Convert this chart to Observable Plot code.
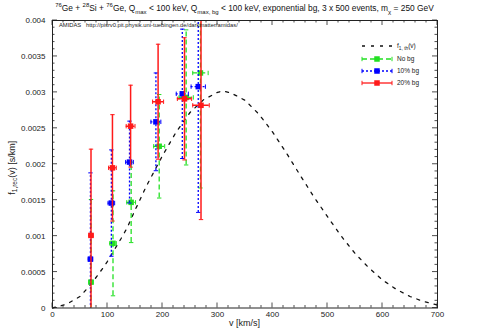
<!DOCTYPE html>
<html><head><meta charset="utf-8">
<script src="https://cdn.jsdelivr.net/npm/d3@7"></script>
<script src="https://cdn.jsdelivr.net/npm/@observablehq/plot@0.6"></script>
<style>
body{margin:0;background:#fff;font-family:"Liberation Sans",Arial,Helvetica,sans-serif;}
#wrap{width:480px;height:336px;overflow:hidden;}
#title{height:14px;width:489px;text-align:center;font-size:8.4px;line-height:1;padding-top:4px;box-sizing:border-box;color:#111;white-space:nowrap;}
#title sup,#title sub{font-size:6px;line-height:0;}
#chart svg{display:block;}
</style></head>
<body><div id="wrap">
<div id="title"><sup>76</sup>Ge + <sup>28</sup>Si + <sup>76</sup>Ge, Q<sub>max</sub> &lt; 100 keV, Q<sub>max, bg</sub> &lt; 100 keV, exponential bg, 3 x 500 events, m<sub>χ</sub> = 250 GeV</div>
<div id="chart"></div>
</div>
<script>
// ---- data ----
const xTicks = [0,100,200,300,400,500,600,700];
const yTicks = [0,0.0005,0.001,0.0015,0.002,0.0025,0.003,0.0035,0.004];
const yTickLabels = ["0","0.0005","0.001","0.0015","0.002","0.0025","0.003","0.0035","0.004"];

// theoretical f1,th(v)
const thV = [0,25,50,70,94,100,125,136,150,171,200,225,250,275,300,310,325,350,375,400,425,450,475,500,525,550,575,600,625,650,675,700];
const thF = [0,0.00005,0.00016,0.00033,0.00058,0.00065,0.00097,0.00112,0.00136,0.00170,0.00212,0.00245,0.00272,0.00290,0.00300,0.00302,0.00299,0.00289,0.00270,0.00245,0.00216,0.00185,0.00155,0.00127,0.00100,0.00076,0.00056,0.00039,0.00026,0.00016,0.00009,0.00004];

// No bg
const gV   = [70,110,143,194,243,269];
const gF   = [0.00036,0.00090,0.00147,0.00225,0.00293,0.00327];
const gXe  = [4,6,8,10,13,14];
const gYe  = [0.00115,0.00073,0.00056,0.00072,0.00094,0.00160];
// 10% bg
const bV   = [69,107,140,188,236,265];
const bF   = [0.00068,0.00146,0.00203,0.00259,0.00298,0.00308];
const bXe  = [4,6,7,9,11,13];
const bYe  = [0.00120,0.00074,0.00057,0.00068,0.00090,0.00175];
// 20% bg
const rV   = [70,109,142,192,240,270];
const rF   = [0.00101,0.00195,0.00253,0.00287,0.00291,0.00282];
const rXe  = [4,7,8,10,13,15];
const rYe  = [0.00120,0.00074,0.00057,0.00080,0.00085,0.00159];

const seriesNames = ["No bg","10% bg","20% bg"];
const seriesColors = ["#22e022","#0000ff","#ff1a1a"];
const seriesDash = ["5,3","2,2",null];

// ---- build ----
const theory = thV.map((v,i)=>({v, f:thF[i]}));
const hcap = {draw(ctx,size){const w=Math.sqrt(size/Math.PI);ctx.moveTo(-w,0);ctx.lineTo(w,0);}};
const vcap = {draw(ctx,size){const w=Math.sqrt(size/Math.PI);ctx.moveTo(0,-w);ctx.lineTo(0,w);}};

function seriesMarks(vs, vals, xe, ye, color, dash, sw){
  const d = vs.map((v,i)=>({v, f:vals[i], xl:v-xe[i], xh:v+xe[i], yl:vals[i]-ye[i], yh:vals[i]+ye[i]}));
  const st = {stroke:color, strokeWidth:sw, clip:true};
  if (dash) st.strokeDasharray = dash;
  return [
    Plot.ruleX(d,{x:"v", y1:"yl", y2:"yh", ...st}),
    Plot.ruleY(d,{y:"f", x1:"xl", x2:"xh", ...st}),
    Plot.dot(d,{x:"v", y:"yl", symbol:hcap, r:2.2, fill:"none", stroke:color, strokeWidth:1, clip:true}),
    Plot.dot(d,{x:"v", y:"yh", symbol:hcap, r:2.2, fill:"none", stroke:color, strokeWidth:1, clip:true}),
    Plot.dot(d,{x:"xl", y:"f", symbol:vcap, r:2.2, fill:"none", stroke:color, strokeWidth:1, clip:true}),
    Plot.dot(d,{x:"xh", y:"f", symbol:vcap, r:2.2, fill:"none", stroke:color, strokeWidth:1, clip:true}),
    Plot.dot(d,{x:"v", y:"f", symbol:"square", r:3.1, fill:color, stroke:"none"})
  ];
}

const chart = Plot.plot({
  width:480, height:322,
  marginLeft:52, marginRight:43, marginTop:6, marginBottom:28.5,
  style:{fontFamily:"Liberation Sans, Arial, Helvetica, sans-serif", fontSize:"8px", background:"white", color:"#222", overflow:"visible"},
  x:{domain:[0,700]},
  y:{domain:[0,0.004]},
  marks:[
    Plot.axisX({ticks:xTicks, tickSize:0, tickPadding:3, tickFormat:d=>String(d), label:null}),
    Plot.axisY({ticks:yTicks, tickSize:0, tickPadding:7, tickFormat:(d,i)=>yTickLabels[yTicks.indexOf(d)], label:null}),
    Plot.line(theory,{x:"v", y:"f", stroke:"#111", strokeWidth:1.3, strokeDasharray:"3,6"}),
    ...seriesMarks(gV,gF,gXe,gYe,seriesColors[0],seriesDash[0],1.3),
    ...seriesMarks(bV,bF,bXe,bYe,seriesColors[1],seriesDash[1],1.3),
    ...seriesMarks(rV,rF,rXe,rYe,seriesColors[2],seriesDash[2],1.5),
    Plot.frame({stroke:"#222", strokeWidth:1})
  ]
});
document.getElementById("chart").appendChild(chart);

// ---- decorations: inward ticks, labels, legend ----
const svg = d3.select(chart);
const sx = chart.scale("x"), sy = chart.scale("y");
const X = v=>sx.apply(v), Y = v=>sy.apply(v);
const x0 = X(0), x1 = X(700), y0 = Y(0), y1 = Y(0.004);
const tg = svg.append("g").attr("stroke","#222").attr("stroke-width",0.8);
for (let v=0; v<=700; v+=20){
  const L = v%100===0 ? 5 : 2.5;
  tg.append("line").attr("x1",X(v)).attr("x2",X(v)).attr("y1",y0).attr("y2",y0-L);
  tg.append("line").attr("x1",X(v)).attr("x2",X(v)).attr("y1",y1).attr("y2",y1+L);
}
for (let k=0; k<=40; k++){
  const v = k*0.0001;
  const L = k%5===0 ? 5 : 2.5;
  tg.append("line").attr("y1",Y(v)).attr("y2",Y(v)).attr("x1",x0).attr("x2",x0+L);
  tg.append("line").attr("y1",Y(v)).attr("y2",Y(v)).attr("x1",x1).attr("x2",x1-L);
}
const ff = "Liberation Sans, Arial, Helvetica, sans-serif";
// x label
svg.append("text").attr("x",(x0+x1)/2).attr("y",312).attr("text-anchor","middle")
  .attr("font-family",ff).attr("font-size",9).attr("fill","#222").text("v [km/s]");
// y label with subscript
const yl = svg.append("text").attr("transform",`translate(15,${(y0+y1)/2+4}) rotate(-90)`)
  .attr("text-anchor","middle").attr("font-family",ff).attr("font-size",9).attr("fill","#222");
yl.append("tspan").text("f");
yl.append("tspan").attr("font-size",6.5).attr("dy",2).text("1,rec");
yl.append("tspan").attr("dy",-2).text("(v) [s/km]");
// AMIDAS stamp
svg.append("text").attr("x",59).attr("y",13).attr("text-anchor","start").attr("font-family",ff).attr("font-size",5.8).attr("fill","#222").text("AMIDAS");
svg.append("text").attr("x",86).attr("y",13).attr("text-anchor","start").attr("font-family",ff).attr("font-size",5.8).attr("fill","#222").text("http://pisrv0.pit.physik.uni-tuebingen.de/darkmatter/amidas/");
// legend
const lg = svg.append("g").attr("text-anchor","start");
const lx1 = 362, lx2 = 392, lmid = 377, ltx = 397;
const ly = [32, 45, 57, 69];
lg.append("line").attr("x1",lx1).attr("x2",lx2).attr("y1",ly[0]).attr("y2",ly[0])
  .attr("stroke","#111").attr("stroke-width",1.3).attr("stroke-dasharray","3,6");
const t0 = lg.append("text").attr("x",ltx).attr("y",ly[0]+2.2).attr("text-anchor","start").attr("font-family",ff).attr("font-size",6.5).attr("fill","#222");
t0.append("tspan").text("f");
t0.append("tspan").attr("font-size",4.8).attr("dy",1.5).text("1, th");
t0.append("tspan").attr("dy",-1.5).text("(v)");
seriesNames.forEach((name,i)=>{
  const y = ly[i+1], c = seriesColors[i];
  const ln = lg.append("line").attr("x1",lx1).attr("x2",lx2).attr("y1",y).attr("y2",y)
    .attr("stroke",c).attr("stroke-width",1.3);
  if (seriesDash[i]) ln.attr("stroke-dasharray",seriesDash[i]);
  [lx1,lx2].forEach(x=>lg.append("line").attr("x1",x).attr("x2",x).attr("y1",y-2.2).attr("y2",y+2.2).attr("stroke",c).attr("stroke-width",1));
  lg.append("rect").attr("x",lmid-2.75).attr("y",y-2.75).attr("width",5.5).attr("height",5.5).attr("fill",c);
  lg.append("text").attr("x",ltx).attr("y",y+2.2).attr("text-anchor","start").attr("font-family",ff).attr("font-size",6.5).attr("fill","#222").text(name);
});
</script>
</body></html>
